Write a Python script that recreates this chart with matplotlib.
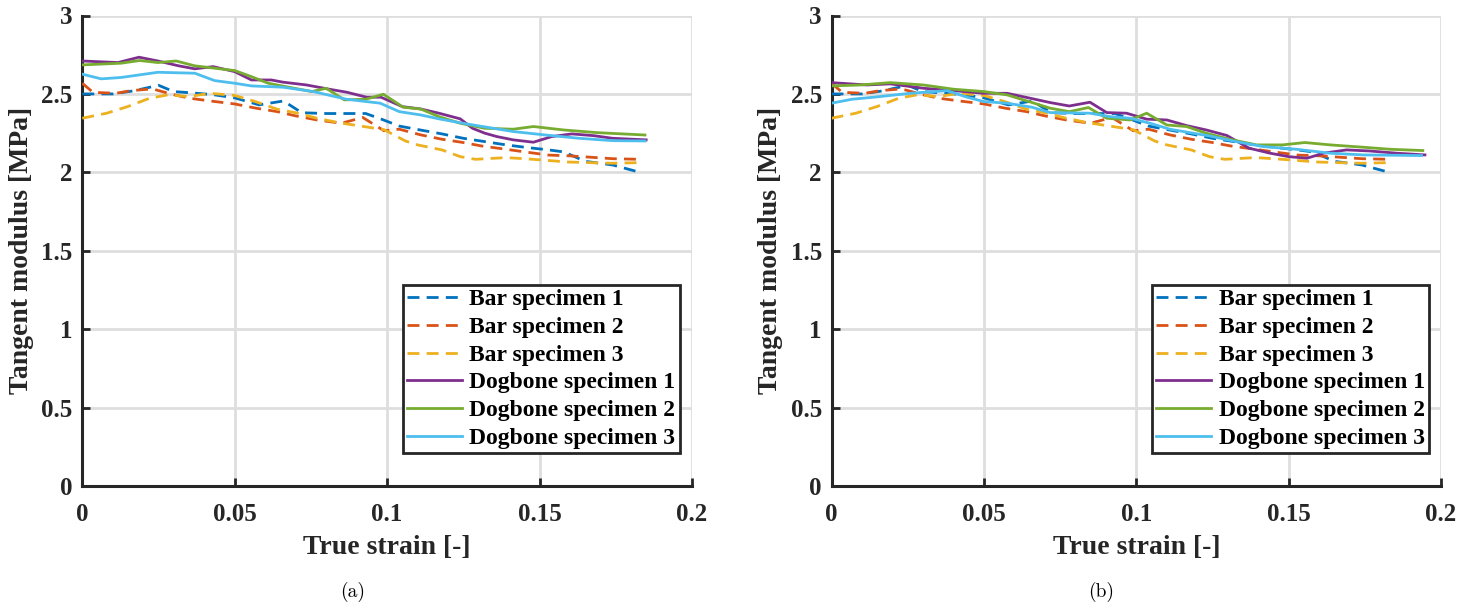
import matplotlib
matplotlib.use("Agg")
import matplotlib.pyplot as plt

# ---------------- data ----------------
bar1_x = [0, 0.01, 0.017, 0.025, 0.03, 0.037, 0.043, 0.05, 0.058, 0.066, 0.072, 0.08, 0.093, 0.098,
          0.104, 0.112, 0.118, 0.125, 0.132, 0.139, 0.146, 0.153, 0.158, 0.165, 0.174, 0.182]
bar1_y = [2.50, 2.50, 2.52, 2.555, 2.515, 2.505, 2.495, 2.475, 2.43, 2.455, 2.38, 2.375, 2.375, 2.34,
          2.295, 2.266, 2.245, 2.217, 2.196, 2.175, 2.158, 2.143, 2.13, 2.07, 2.047, 2.005]

bar2_x = [0, 0.0035, 0.011, 0.016, 0.023, 0.029, 0.035, 0.042, 0.05, 0.057, 0.064, 0.07, 0.077, 0.085,
          0.092, 0.099, 0.104, 0.111, 0.118, 0.125, 0.131, 0.139, 0.146, 0.153, 0.16, 0.167, 0.174, 0.183]
bar2_y = [2.568, 2.51, 2.504, 2.521, 2.532, 2.50, 2.473, 2.455, 2.436, 2.409, 2.387, 2.36, 2.334, 2.313,
          2.35, 2.265, 2.275, 2.239, 2.211, 2.19, 2.168, 2.147, 2.128, 2.11, 2.105, 2.096, 2.087, 2.083]

bar3_x = [0, 0.008, 0.015, 0.022, 0.028, 0.035, 0.042, 0.05, 0.057, 0.064, 0.07, 0.077, 0.084, 0.091,
          0.099, 0.106, 0.11, 0.118, 0.124, 0.129, 0.139, 0.145, 0.152, 0.159, 0.166, 0.174, 0.183]
bar3_y = [2.345, 2.377, 2.42, 2.472, 2.494, 2.483, 2.504, 2.49, 2.45, 2.402, 2.38, 2.345, 2.317, 2.296,
          2.272, 2.20, 2.175, 2.143, 2.10, 2.083, 2.094, 2.087, 2.077, 2.066, 2.062, 2.058, 2.062]

# panel (a) dogbone specimens
dog1a_x = [0, 0.0117, 0.0186, 0.0248, 0.0314, 0.0369, 0.0429, 0.05, 0.0555, 0.062, 0.0658, 0.0736,
           0.081, 0.0867, 0.0933, 0.098, 0.105, 0.111, 0.117, 0.124, 0.128, 0.132, 0.136, 0.1414,
           0.148, 0.154, 0.1606, 0.1677, 0.174, 0.185]
dog1a_y = [2.71, 2.70, 2.734, 2.71, 2.68, 2.66, 2.674, 2.642, 2.589, 2.589, 2.575, 2.557,
           2.53, 2.511, 2.479, 2.479, 2.419, 2.404, 2.377, 2.341, 2.281, 2.25, 2.228, 2.207,
           2.192, 2.228, 2.245, 2.234, 2.217, 2.207]

dog2a_x = [0, 0.0128, 0.0188, 0.0248, 0.0308, 0.0369, 0.0434, 0.05, 0.0555, 0.061, 0.0658, 0.0753,
           0.080, 0.086, 0.093, 0.0988, 0.1053, 0.111, 0.117, 0.124, 0.132, 0.1414, 0.148, 0.158,
           0.169, 0.1846]
dog2a_y = [2.685, 2.696, 2.713, 2.70, 2.71, 2.679, 2.664, 2.649, 2.61, 2.568, 2.55, 2.515,
           2.536, 2.462, 2.466, 2.498, 2.415, 2.404, 2.355, 2.313, 2.281, 2.275, 2.292, 2.27,
           2.253, 2.238]

dog3a_x = [0, 0.0062, 0.0128, 0.0248, 0.0369, 0.0434, 0.05, 0.0555, 0.0658, 0.0758, 0.0867, 0.0977,
           0.104, 0.111, 0.117, 0.126, 0.132, 0.1414, 0.152, 0.163, 0.174, 0.1846]
dog3a_y = [2.626, 2.596, 2.605, 2.638, 2.632, 2.585, 2.568, 2.551, 2.543, 2.515, 2.466, 2.441,
           2.387, 2.366, 2.341, 2.309, 2.29, 2.26, 2.238, 2.217, 2.202, 2.20]

# panel (b) dogbone specimens
dog1b_x = [0, 0.0116, 0.0193, 0.0302, 0.040, 0.05, 0.0576, 0.0658, 0.0717, 0.078, 0.0848, 0.0903,
           0.0968, 0.1034, 0.11, 0.1165, 0.123, 0.1297, 0.137, 0.1439, 0.150, 0.156, 0.1614, 0.169,
           0.1767, 0.1854, 0.1947]
dog1b_y = [2.572, 2.557, 2.564, 2.536, 2.521, 2.504, 2.504, 2.47, 2.445, 2.423, 2.447, 2.381,
           2.377, 2.339, 2.334, 2.298, 2.27, 2.235, 2.154, 2.122, 2.10, 2.09, 2.122, 2.143,
           2.136, 2.122, 2.111]

dog2b_x = [0, 0.0095, 0.0193, 0.0302, 0.04, 0.05, 0.0576, 0.0658, 0.0717, 0.078, 0.0843, 0.0903,
           0.098, 0.1034, 0.11, 0.1165, 0.123, 0.131, 0.1395, 0.148, 0.1553, 0.1636, 0.1745,
           0.1832, 0.194]
dog2b_y = [2.551, 2.557, 2.572, 2.557, 2.53, 2.515, 2.494, 2.445, 2.409, 2.387, 2.413, 2.345,
           2.334, 2.377, 2.302, 2.292, 2.249, 2.209, 2.175, 2.175, 2.19, 2.175, 2.16,
           2.147, 2.139]

dog3b_x = [0, 0.0067, 0.0138, 0.0259, 0.0379, 0.0445, 0.05, 0.0576, 0.0658, 0.0717, 0.0848, 0.0914,
           0.098, 0.1045, 0.111, 0.1176, 0.124, 0.1327, 0.1417, 0.1526, 0.1636, 0.1745, 0.1936]
dog3b_y = [2.441, 2.466, 2.479, 2.504, 2.521, 2.479, 2.451, 2.441, 2.415, 2.381, 2.377, 2.355,
           2.345, 2.313, 2.275, 2.253, 2.232, 2.196, 2.164, 2.147, 2.122, 2.111, 2.107]

labels = ["Bar specimen 1", "Bar specimen 2", "Bar specimen 3",
          "Dogbone specimen 1", "Dogbone specimen 2", "Dogbone specimen 3"]
colors = ["#0072BD", "#D95319", "#EDB120", "#7E2F8E", "#77AC30", "#4DBEEE"]

x_ticks = [0, 0.05, 0.1, 0.15, 0.2]
x_ticklabels = ["0", "0.05", "0.1", "0.15", "0.2"]
y_ticks = [0, 0.5, 1, 1.5, 2, 2.5, 3]
y_ticklabels = ["0", "0.5", "1", "1.5", "2", "2.5", "3"]
captions = ["(a)", "(b)"]

# ---------------- style ----------------
serif = "Liberation Serif"
W, H = 1475, 607
fig = plt.figure(figsize=(W / 100, H / 100), dpi=100)

ax_w = 609.6 / W
ax_h = 470.5 / H
ax_b = (H - 486) / H
lefts = [82.3 / W, 831.5 / W]

panels = [
    [(bar1_x, bar1_y), (bar2_x, bar2_y), (bar3_x, bar3_y),
     (dog1a_x, dog1a_y), (dog2a_x, dog2a_y), (dog3a_x, dog3a_y)],
    [(bar1_x, bar1_y), (bar2_x, bar2_y), (bar3_x, bar3_y),
     (dog1b_x, dog1b_y), (dog2b_x, dog2b_y), (dog3b_x, dog3b_y)],
]

dash = (0, (4.3, 2.6))
for pi, (left, series) in enumerate(zip(lefts, panels)):
    ax = fig.add_axes([left, ax_b, ax_w, ax_h])
    for i, ((xs, ys), lab, col) in enumerate(zip(series, labels, colors)):
        ax.plot(xs, ys, color=col, lw=2.0, label=lab,
                linestyle=dash if i < 3 else "-", zorder=3)
    ax.set_xlim(0, 0.2)
    ax.set_ylim(0, 3)
    ax.set_xticks(x_ticks)
    ax.set_xticklabels(x_ticklabels)
    ax.set_yticks(y_ticks)
    ax.set_yticklabels(y_ticklabels)
    ax.grid(True, color="#dedede", lw=2.0, zorder=0)
    ax.set_axisbelow(True)
    for s in ["top", "right"]:
        ax.spines[s].set_visible(False)
    for s in ["left", "bottom"]:
        ax.spines[s].set_color("#262626")
        ax.spines[s].set_linewidth(2.2)
    ax.tick_params(direction="in", length=6, width=2, color="#262626", labelsize=18)
    ax.tick_params(axis="x", pad=12)
    ax.tick_params(axis="y", pad=7)
    for t in ax.get_xticklabels() + ax.get_yticklabels():
        t.set_fontfamily(serif)
        t.set_fontweight("bold")
        t.set_color("#262626")
    ax.set_xlabel("True strain [-]", fontsize=20, fontweight="bold",
                  fontfamily=serif, color="#262626")
    ax.set_ylabel("Tangent modulus [MPa]", fontsize=20, fontweight="bold",
                  fontfamily=serif, color="#262626")
    ax.xaxis.set_label_coords(0.5, -0.104)
    ax.yaxis.set_label_coords(-0.079, 0.5)
    leg = ax.legend(loc="lower right", bbox_to_anchor=(0.98, 0.07), borderaxespad=0,
                    prop={"family": serif, "weight": "bold", "size": 17},
                    frameon=True, fancybox=False, handlelength=2.35, handletextpad=0.3,
                    labelspacing=0.26, borderpad=0.18)
    fr = leg.get_frame()
    fr.set_edgecolor("#262626")
    fr.set_linewidth(2.0)
    fr.set_alpha(1)
    fig.text(left + ax_w * 0.443, 1 - 592 / H, captions[pi], ha="center", va="center",
             fontsize=14, fontfamily="cmr10")

fig.savefig("out.png", dpi=100)
